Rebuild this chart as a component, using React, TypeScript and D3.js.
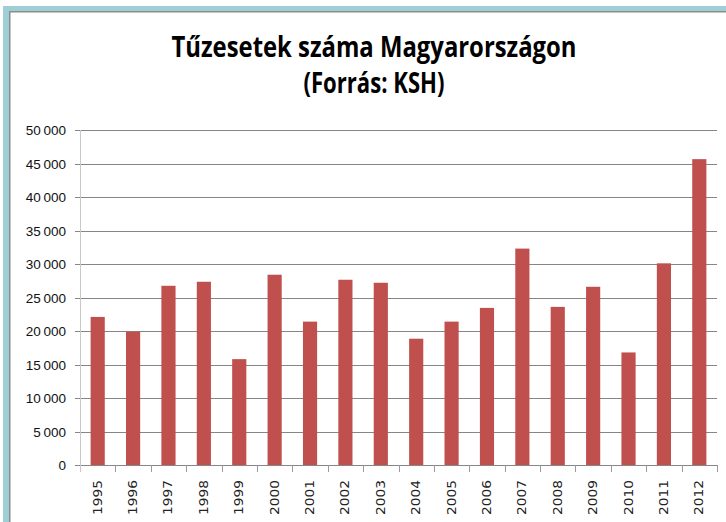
import React from "react";
import * as d3 from "d3";

const years = ["1995","1996","1997","1998","1999","2000","2001","2002","2003","2004","2005","2006","2007","2008","2009","2010","2011","2012"];
const fires = [22100, 19900, 26750, 27350, 15800, 28400, 21400, 27650, 27200, 18850, 21400, 23450, 32300, 23600, 26600, 16800, 30100, 45650];
const yTicks = [0, 5000, 10000, 15000, 20000, 25000, 30000, 35000, 40000, 45000, 50000];
const titleLines = ["Tűzesetek száma Magyarországon", "(Forrás: KSH)"];

const W = 726, H = 522;
const plot = { left: 80, right: 717, top: 130, bottom: 465 };

function fmt(v: number) {
  const s = String(v);
  return s.length > 3 ? s.slice(0, s.length - 3) + "\u2009" + s.slice(-3) : s;
}

export default function App() {
  const x = d3.scaleBand<string>().domain(years).range([plot.left, plot.right]).paddingInner(0.6).paddingOuter(0.3);
  const y = d3.scaleLinear().domain([0, 50000]).range([plot.bottom, plot.top]);
  const step = x.step();
  const boundaries = d3.range(years.length + 1).map(i => plot.left + i * step);
  return (
    <svg width={W} height={H} style={{ position: "absolute", left: 0, top: 0, background: "#fff" }}>
      {/* frame */}
      <rect x={3} y={6} width={W} height={H} fill="#9ecfd6" />
      <rect x={9} y={11} width={W} height={H} fill="#8c8c8c" />
      <rect x={10.5} y={12.5} width={W} height={H} fill="#ffffff" />
      {/* title */}
      <text x={374} y={57} textAnchor="middle" fontFamily="'Liberation Sans Narrow', 'Open Sans', sans-serif" fontWeight="bold" fontSize={28} fill="#000" textLength={405} lengthAdjust="spacingAndGlyphs">{titleLines[0]}</text>
      <text x={374} y={93} textAnchor="middle" fontFamily="'Liberation Sans Narrow', 'Open Sans', sans-serif" fontWeight="bold" fontSize={28} fill="#000" textLength={141} lengthAdjust="spacingAndGlyphs">{titleLines[1]}</text>
      {/* gridlines */}
      {yTicks.map(t => (
        <line key={"g" + t} x1={plot.left} x2={plot.right} y1={Math.round(y(t)) + 0.5} y2={Math.round(y(t)) + 0.5} stroke="#868686" strokeWidth={1} />
      ))}
      {/* y axis */}
      <line x1={plot.left + 0.5} x2={plot.left + 0.5} y1={plot.top} y2={plot.bottom} stroke="#c8c8c8" strokeWidth={1} />
      {yTicks.map(t => (
        <g key={"t" + t}>
          <line x1={plot.left - 5} x2={plot.left} y1={Math.round(y(t)) + 0.5} y2={Math.round(y(t)) + 0.5} stroke="#868686" />
          <text x={66} y={y(t) + 5} textAnchor="end" fontFamily="'Liberation Sans', Arial, sans-serif" fontSize={13.5} fill="#111">{fmt(t)}</text>
        </g>
      ))}
      {/* bars */}
      {years.map((yr, i) => (
        <rect key={yr} x={x(yr)} y={y(fires[i])} width={x.bandwidth()} height={plot.bottom - y(fires[i])} fill="#c0504d" />
      ))}
      {/* x axis */}
      <line x1={plot.left} x2={plot.right} y1={plot.bottom + 0.5} y2={plot.bottom + 0.5} stroke="#868686" />
      {boundaries.map((b, i) => (
        <line key={"b" + i} x1={Math.round(b) + 0.5} x2={Math.round(b) + 0.5} y1={plot.bottom} y2={plot.bottom + 7} stroke={i === 0 ? "#c8c8c8" : "#9a9a9a"} />
      ))}
      {years.map(yr => {
        const cx = (x(yr) as number) + x.bandwidth() / 2;
        return (
          <text key={"l" + yr} transform={`translate(${cx + 4},480) rotate(-90)`} textAnchor="end" fontFamily="'DejaVu Sans', Verdana, sans-serif" fontSize={11.5} fill="#222" textLength={35} lengthAdjust="spacingAndGlyphs">{yr}</text>
        );
      })}
    </svg>
  );
}
